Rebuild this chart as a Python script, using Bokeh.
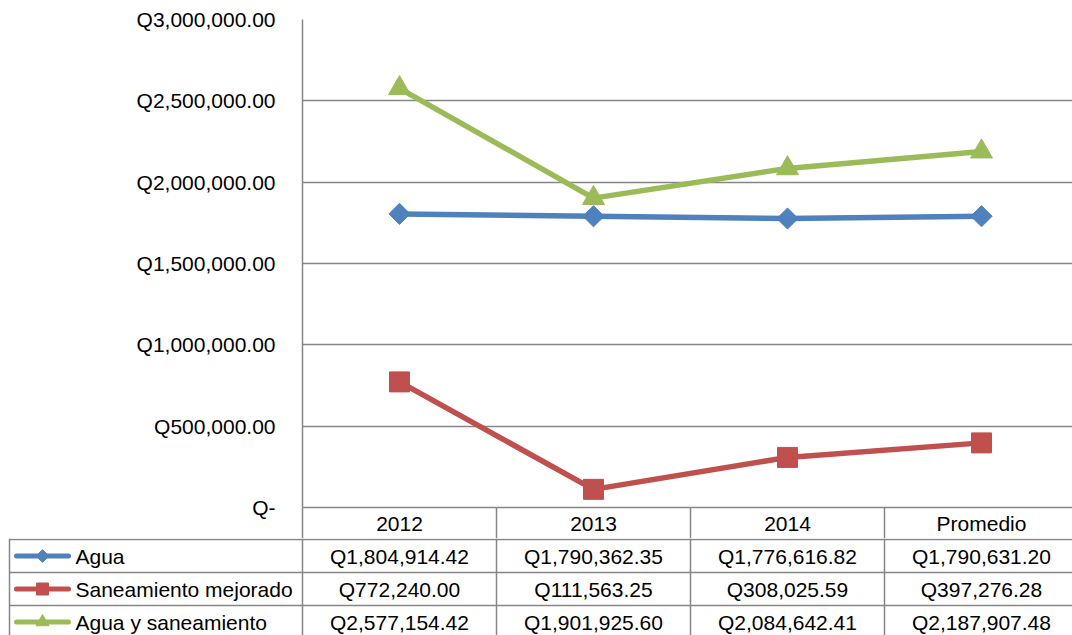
import numpy as np
from bokeh.plotting import figure
from bokeh.models import Range1d, FixedTicker, CustomJSTickFormatter
from bokeh.layouts import column
from bokeh.embed import file_html
from bokeh.resources import INLINE
from bokeh.core.properties import value

# ---------------- data ----------------
categories = ["2012", "2013", "2014", "Promedio"]
series_names = ["Agua", "Saneamiento mejorado", "Agua y saneamiento"]
agua = [1804914.42, 1790362.35, 1776616.82, 1790631.20]
saneamiento = [772240.00, 111563.25, 308025.59, 397276.28]
agua_saneamiento = [2577154.42, 1901925.60, 2084642.41, 2187907.48]
y_ticks = [0, 500000, 1000000, 1500000, 2000000, 2500000, 3000000]

series_values = [agua, saneamiento, agua_saneamiento]

# ---------------- style ----------------
colors = ["#4F81BD", "#C0504D", "#9BBB59"]
markers = ["square", "square", "triangle"]
angles = [np.pi / 4, 0, 0]
sizes = [15, 20, 22]
legend_sizes = [9, 12, 13]

FONT = "Liberation Sans"
FS = "21px"
GRID = "#868686"

W = 1072
LEFT = 302
COL_PX = 194          # width of one category column in pixels (table runs past the right edge)
FRAME_TOP = 19
FRAME_BOTTOM = 507
HEADER_H = 31
TOP_H = FRAME_BOTTOM + HEADER_H
TABLE_H = 635 - TOP_H
ROW_H = 33
TABLE_X0 = 9

n = len(categories)
xs = [i + 0.5 for i in range(n)]
x_end = (W - LEFT) / COL_PX

# ---------------- chart ----------------
p = figure(width=W, height=TOP_H, x_range=Range1d(0, x_end),
           y_range=Range1d(y_ticks[0], y_ticks[-1]),
           output_backend="svg", toolbar_location=None,
           min_border_left=LEFT, min_border_right=0,
           min_border_top=FRAME_TOP, min_border_bottom=HEADER_H)
p.frame_align = False
p.outline_line_color = None
p.background_fill_color = "white"
p.border_fill_color = "white"

p.yaxis.ticker = FixedTicker(ticks=y_ticks)
p.yaxis.formatter = CustomJSTickFormatter(code="""
if (tick == 0) return 'Q-';
return 'Q' + tick.toLocaleString('en-US', {minimumFractionDigits: 2, maximumFractionDigits: 2});
""")
p.yaxis.major_tick_out = 0
p.yaxis.major_tick_in = 0
p.yaxis.minor_tick_out = 0
p.yaxis.minor_tick_in = 0
p.yaxis.axis_line_color = GRID
p.yaxis.axis_line_width = 1.5
p.yaxis.major_label_standoff = 27
p.yaxis.major_label_text_font = FONT
p.yaxis.major_label_text_font_size = FS
p.yaxis.major_label_text_color = "black"

p.ygrid.ticker = FixedTicker(ticks=y_ticks)
p.ygrid.grid_line_color = GRID
p.ygrid.grid_line_width = 1.5
p.xgrid.grid_line_color = None

# x axis doubles as the header row of the data table
p.xaxis.ticker = FixedTicker(ticks=xs, minor_ticks=list(range(n)))
p.xaxis.formatter = CustomJSTickFormatter(args=dict(cats=categories),
                                          code="return cats[Math.floor(tick)];")
p.xaxis.major_tick_out = 0
p.xaxis.major_tick_in = 0
p.xaxis.minor_tick_out = HEADER_H
p.xaxis.minor_tick_in = 0
p.xaxis.minor_tick_line_color = GRID
p.xaxis.minor_tick_line_width = 1.5
p.xaxis.axis_line_color = GRID
p.xaxis.axis_line_width = 1.5
p.xaxis.major_label_standoff = -27
p.xaxis.major_label_text_font = FONT
p.xaxis.major_label_text_font_size = FS
p.xaxis.major_label_text_color = "black"

for ys, c, m, a, s in zip(series_values, colors, markers, angles, sizes):
    p.line(xs, ys, line_width=5.5, line_color=c, line_join="round")
    p.scatter(xs, ys, marker=m, angle=a, size=s, fill_color=c, line_color=c)

# ---------------- data table body ----------------
t = figure(width=W, height=TABLE_H, x_range=Range1d(0, W), y_range=Range1d(TABLE_H, 0),
           output_backend="svg", toolbar_location=None, min_border=0,
           x_axis_type=None, y_axis_type=None)
t.frame_align = False
t.grid.visible = False
t.outline_line_color = None
t.background_fill_color = "white"
t.border_fill_color = "white"

nrows = len(series_names)
h_ys = [1 + ROW_H * i for i in range(nrows)]
t.segment(x0=[TABLE_X0] * len(h_ys), y0=h_ys, x1=[W] * len(h_ys), y1=h_ys,
          line_color=GRID, line_width=1.5)
v_xs = [TABLE_X0, LEFT] + [LEFT + COL_PX * k for k in range(1, n)]
t.segment(x0=v_xs, y0=[0] * len(v_xs), x1=v_xs, y1=[TABLE_H] * len(v_xs),
          line_color=GRID, line_width=1.5)

for i, (name, vals, c, m, a, s) in enumerate(zip(series_names, series_values, colors,
                                                 markers, angles, legend_sizes)):
    yc = 1 + ROW_H * (i + 0.5)
    t.segment(x0=[16], y0=[yc], x1=[68], y1=[yc], line_color=c, line_width=5, line_cap="round")
    t.scatter([42], [yc], marker=m, angle=a, size=s, fill_color=c, line_color=c)
    t.text([75], [yc], text=[name], text_font=value(FONT), text_font_size=value(FS),
           text_align="left", text_baseline="middle", text_color="black")
    cx = [LEFT + COL_PX * (j + 0.5) for j in range(n)]
    labels = ["Q{:,.2f}".format(v) for v in vals]
    t.text(cx, [yc] * n, text=labels, text_font=value(FONT), text_font_size=value(FS),
           text_align="center", text_baseline="middle", text_color="black")

layout = column(p, t, spacing=0)
open("out.html", "w").write(file_html(layout, INLINE))
